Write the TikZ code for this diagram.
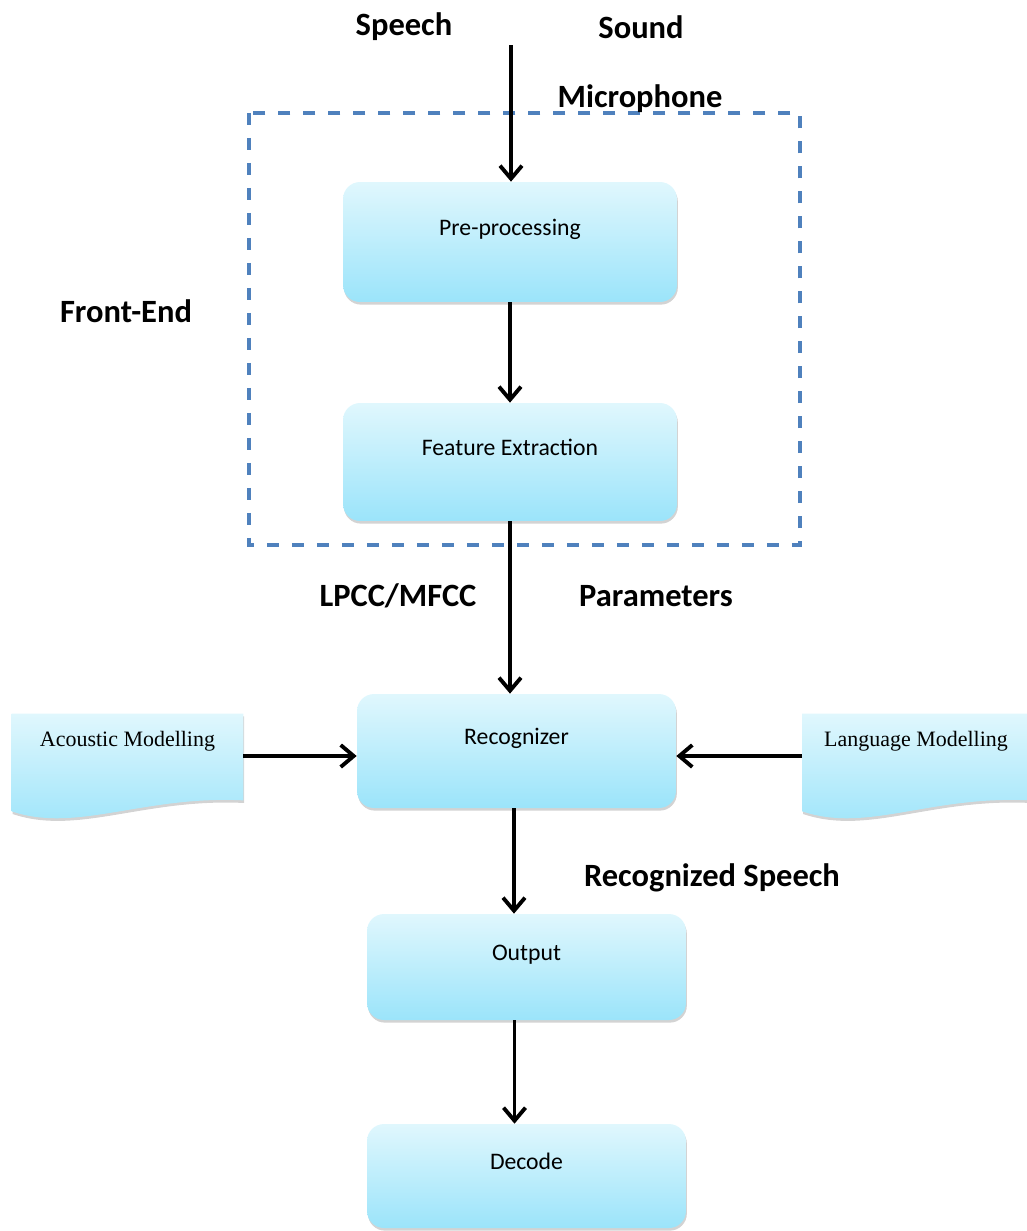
\documentclass[tikz,border=0pt]{standalone}
\usepackage{fontspec}
\setmainfont{Carlito}
\newfontfamily\docfont{Liberation Serif}
\usetikzlibrary{positioning, arrows.meta, shadows, backgrounds}

\definecolor{boxtop}{RGB}{224,247,253}
\definecolor{boxbottom}{RGB}{155,228,250}
\definecolor{frontend}{RGB}{79,129,189}

\begin{document}
\begin{tikzpicture}[x=0.02cm, y=-0.02cm]
        % Define styles
        \tikzset{
            stage/.style={rounded corners=0.34cm, top color=boxtop, bottom color=boxbottom,
                drop shadow={opacity=0.35, shadow xshift=0.5pt, shadow yshift=-1.5pt},
                minimum width=#1, minimum height=2.2cm, inner sep=0pt,
                font=\fontsize{13.5}{16}\selectfont, text height=0.35cm, text depth=0.62cm},
            stage/.default=6.68cm,
            docbox/.style={minimum width=4.62cm, minimum height=1.68cm, inner sep=0pt,
                font=\docfont\fontsize{12.5}{14}\selectfont, text height=0.3cm, text depth=0.7cm},
            flow/.style={-{Straight Barb[length=2.6mm, width=4.4mm, line width=2.2pt]}, line width=2.2pt},
            tag/.style={font=\bfseries\fontsize{18.5}{22}\selectfont}
        }
        \useasboundingbox (0,0) rectangle (1027,1231);

        % Front end enclosure
        \draw[frontend, line width=2.2pt, dash pattern=on 0.24cm off 0.26cm] (249,113) rectangle (800,545);

        % Processing stages
        \node[stage, minimum height=2.4cm] (pre) at (510,242) {Pre-processing};
        \node[stage, minimum height=2.36cm] (feat) at (510,462) {Feature Extraction};
        \node[stage=6.38cm, minimum height=2.28cm] (rec) at (516.5,751) {Recognizer};
        \node[stage=6.38cm, minimum height=2.12cm] (out) at (526.5,967) {Output};
        \node[stage=6.38cm, minimum height=2.08cm] (dec) at (526.5,1176) {Decode};

        % Model documents (wavy bottom)
        \node[docbox] (acoustic) at (127.5,756) {Acoustic Modelling};
        \node[docbox, minimum width=4.54cm] (language) at (916,756) {Language Modelling};
        \begin{pgfonlayer}{background}
            \foreach \doc in {acoustic, language}
                \shade[top color=boxtop, bottom color=boxbottom,
                    drop shadow={opacity=0.35, shadow xshift=0.5pt, shadow yshift=-1.5pt}]
                    (\doc.north west) -- (\doc.north east) -- ([yshift=-0.04cm]\doc.south east)
                    .. controls ([xshift=-2.0cm, yshift=0.06cm]\doc.south east)
                    and ([xshift=1.3cm, yshift=-0.7cm]\doc.south west) ..
                    ([yshift=-0.26cm]\doc.south west) -- cycle;
        \end{pgfonlayer}

        % Signal path
        \coordinate (mic) at (511,45);
        \draw[flow] (mic) -- (mic |- pre.north);
        \draw[flow] (pre.south) -- (feat.north);
        \draw[flow] (feat.south) -- (feat.south |- rec.north);
        \draw[flow] ([xshift=-0.05cm]rec.south) -- ([xshift=-0.05cm]rec.south |- out.north);
        \draw[flow] ([xshift=-0.24cm]out.south) -- ([xshift=-0.24cm]out.south |- dec.north);
        \draw[flow] (acoustic.east) -- (acoustic.east -| rec.west);
        \draw[flow] (language.west) -- (language.west -| rec.east);

        % Labels
        \node[tag] (speech) at (404,27) {Speech};
        \node[tag] (sound) at (641,27) {Sound};
        \node[tag] (microphone) at (640,99) {Microphone};
        \node[tag] (front) at (126,311) {Front-End};
        \node[tag] (lpcc) at (398,596) {LPCC/MFCC};
        \node[tag] (params) at (656,596) {Parameters};
        \node[tag] (recog) at (712,878) {Recognized Speech};
    \end{tikzpicture}
\end{document}
